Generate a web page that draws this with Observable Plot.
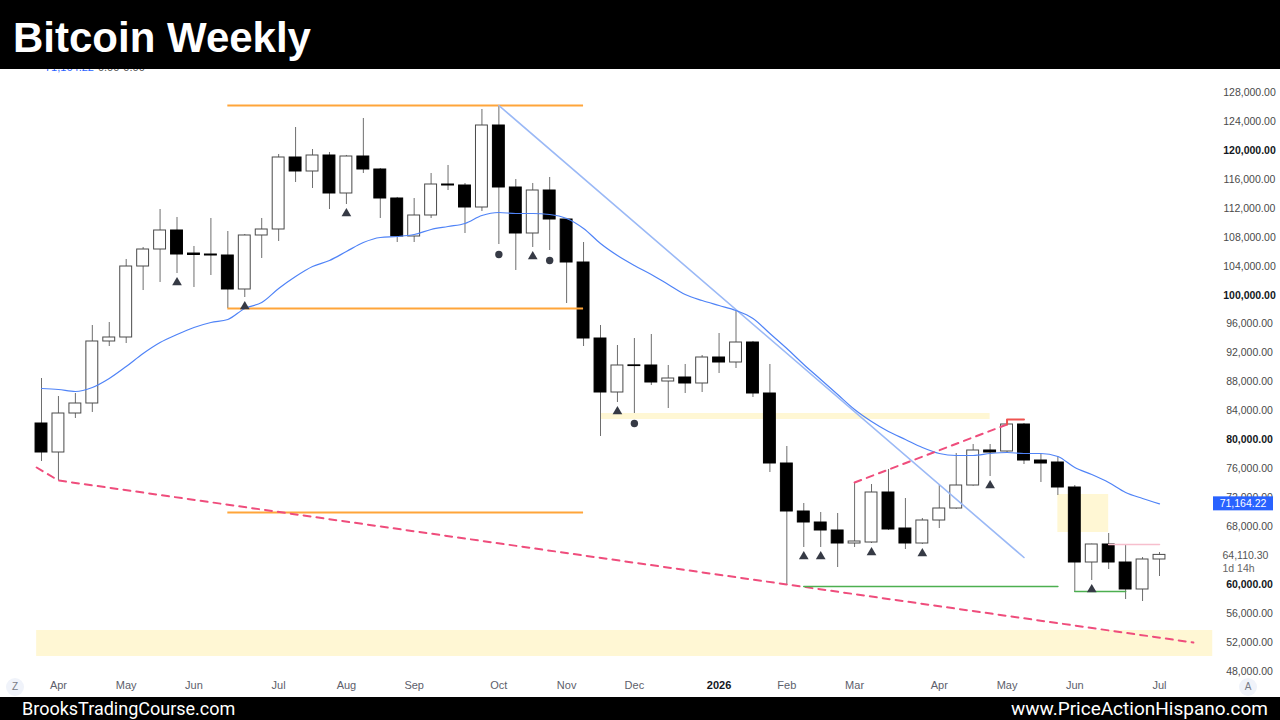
<!DOCTYPE html>
<html>
<head>
<meta charset="utf-8">
<script src="https://cdn.jsdelivr.net/npm/d3@7"></script>
<script src="https://cdn.jsdelivr.net/npm/@observablehq/plot@0.6"></script>
<style>
html, body { margin:0; padding:0; background:#fff; width:1280px; height:720px; overflow:hidden; position:relative; font-family:"Liberation Sans", Arial, sans-serif; }
#header { position:absolute; left:0; top:0; width:1280px; height:69px; background:#000; z-index:3; }
#title { position:absolute; left:13px; top:17px; font:bold 42px "Liberation Sans", Arial, sans-serif; color:#fff; line-height:1; white-space:nowrap; }
#legend { position:absolute; left:45px; top:61px; font:11px "Liberation Sans", Arial, sans-serif; z-index:1; white-space:nowrap; }
#legend .v { color:#2962ff; }
#legend .g { color:#555; margin-left:4px; }
#chart { position:absolute; left:0; top:69px; z-index:0; }
#footer { position:absolute; left:0; top:697px; width:1280px; height:23px; background:#000; z-index:3; font:18px Roboto, "Liberation Sans", sans-serif; line-height:23px; color:#fff; }
#footer .l { position:absolute; left:22px; top:0; }
#footer .r { position:absolute; right:12px; top:0; font-size:19px; }
.btn { position:absolute; width:18px; height:18px; border-radius:9px; background:#f0f3fa; color:#787b86; font:10px "Liberation Sans", Arial, sans-serif; text-align:center; line-height:18px; z-index:2; }
</style>
</head>
<body>
<div id="legend"><span class="v">71,164.22</span><span class="g">0.00</span><span class="g">0.00</span></div>
<div id="header"><div id="title">Bitcoin Weekly</div></div>
<div id="chart"></div>
<div class="btn" style="left:6px;top:678px;">Z</div>
<div class="btn" style="left:1239px;top:678px;">A</div>
<div id="footer"><span class="l">BrooksTradingCourse.com</span><span class="r">www.PriceActionHispano.com</span></div>
<script>
// ---- weekly bars (Mondays) ----
const firstWeek = "2025-03-31";
const lastWeek = "2026-07-06";
const open = [82266,78259,83647,85029,93596,94148,103958,106307,108933,105750,
  105616,105478,100781,108242,109071,119019,117085,119295,114045,119157,
  117361,113354,108104,111005,115288,115150,112110,123440,114874,108518,
  114459,110452,104511,94010,86549,90300,90280,88069,88622,87793,
  91385,90694,93457,86411,76739,70107,68587,67482,65685,65823,
  72732,67758,65685,68863,70521,73699,78535,78397,82128,77153,
  76877,73423,63060,65547,63060,59330,63475];
const high = [88483,85996,86411,95806,96221,104926,106584,111834,110729,106722,
  110591,108794,108380,110591,119433,123164,120124,119710,119300,124408,
  117500,113500,113354,116808,117914,115427,125651,126204,115979,115427,
  116256,110600,107274,95806,93043,94010,94563,90280,90418,91661,
  94701,97879,93600,90418,79088,71212,69969,69830,74114,73837,
  75910,71903,69140,73699,78121,79364,79364,82818,82266,77982,
  77706,73699,65600,67067,65409,63751,64442];
const low = [77015,74390,82957,83786,92905,93319,100642,101748,102991,101057,
  102715,98155,99675,105064,107413,115565,114736,111834,112525,116808,
  110591,107274,107274,110591,114459,108518,111558,106998,103406,106584,
  106169,98846,92905,80470,85167,83647,87516,84338,86411,86549,
  89174,89865,85858,75495,59882,65133,65133,62369,65133,65685,
  67482,64856,65550,67758,70400,73600,74943,78121,76601,74114,
  72317,58915,60573,62093,57948,57671,61126];
const close = [78259,83647,85029,93596,94148,103958,106307,108933,105616,105550,
  105478,100781,108242,109071,119019,117085,119295,114045,119157,117361,
  113354,108104,111005,115288,115150,112110,123440,114874,108518,114459,
  110452,104511,94010,86549,90280,90200,87931,88483,87793,91385,
  90694,93457,86411,76739,70107,68587,67482,65685,65962,72732,
  67620,65685,68863,70521,73699,78535,78259,82128,77153,76739,
  73423,63060,65547,63060,59330,63475,64110.30];
// 20-week EMA (blue)
const ema = [87102,86964,86687,87240,88483,90141,91938,93457,94563,95530,
  96221,96635,98155,98984,100919,102577,103958,104787,106031,107274,
  107965,108104,108380,109071,109485,109900,111005,111420,111281,111281,
  111143,110591,109209,107136,105478,104097,102853,101471,100090,99261,
  98570,97879,96774,94701,92628,90418,88345,86273,84200,82542,
  81160,80055,78950,78121,77844,77844,78121,78259,78121,78121,
  77706,76186,75219,74114,72732,71903,71164.22];
// signal markers below bars (bar indexes)
const triangleBars = [8,12,18,29,34,45,46,49,52,56,62];
const circleBars = [27,30,35];

// ---- drawings ----
const orangeLevels = [126204, 98155, 69969];
const orangeFrom = "2025-06-16", orangeTo = "2025-11-10";
const zones = [
  {x1:"2025-11-17", x2:"2026-04-27", y1:82818, y2:83647},
  {x1:"2026-05-25", x2:"2026-06-15", y1:67205, y2:72456},
  {x1:"2025-03-29", x2:"2026-07-28", y1:50073, y2:53665}
];
const trendLine = [{d:"2025-10-06", p:126204}, {d:"2026-05-11", p:63751}];
const redDashLow = [{d:"2025-03-29", p:76188}, {d:"2025-04-07", p:74390}, {d:"2026-07-20", p:52007}];
const redDashHigh = [{d:"2026-03-02", p:74114}, {d:"2026-05-04", p:82128}];
const redSolid = [{d:"2026-05-04", p:82128}, {d:"2026-05-04", p:82818}, {d:"2026-05-11", p:82818}];
const pinkLine = [{d:"2026-06-15", p:65547}, {d:"2026-07-06", p:65547}];
const greenLines = [
  [{d:"2026-02-09", p:59746}, {d:"2026-05-25", p:59746}],
  [{d:"2026-06-01", p:59055}, {d:"2026-06-22", p:59055}]
];

// ---- axes ----
const yTicks = [48000,52000,56000,60000,68000,72000,76000,80000,84000,88000,92000,96000,100000,104000,108000,112000,116000,120000,124000,128000];
const yBold = [60000,80000,100000,120000];
const xTickDates = ["2025-04-07","2025-05-05","2025-06-02","2025-07-07","2025-08-04","2025-09-01","2025-10-06","2025-11-03","2025-12-01","2026-01-05","2026-02-02","2026-03-02","2026-04-06","2026-05-04","2026-06-01","2026-07-06"];
const xTickLabels = ["Apr","May","Jun","Jul","Aug","Sep","Oct","Nov","Dec","2026","Feb","Mar","Apr","May","Jun","Jul"];
const lastClose = 64110.30;
const countdown = "1d 14h";

// ---- build ----
const D = s => new Date(s);
const weeks = d3.utcMonday.range(D(firstWeek), d3.utcDay.offset(D(lastWeek), 1));
const bars = weeks.map((date, i) => ({date, o:open[i], h:high[i], l:low[i], c:close[i], e:ema[i]}));
const pts = arr => arr.map(a => ({d:D(a.d), p:a.p}));
const fmt = d3.format(",.2f");
const labelMap = new Map(xTickDates.map((s, i) => [+D(s), xTickLabels[i]]));
const xNormal = xTickDates.filter((s, i) => xTickLabels[i] !== "2026").map(D);
const xBold = xTickDates.filter((s, i) => xTickLabels[i] === "2026").map(D);
const emaLast = ema[ema.length - 1];

function emaTag(index, scales, values, dims) {
  const y = scales.y(emaLast);
  const xr = dims.width - dims.marginRight;
  const g = d3.create("svg:g");
  g.append("rect").attr("x", xr + 1).attr("y", y - 7).attr("width", 60).attr("height", 14).attr("fill", "#2962ff");
  g.append("text").attr("x", xr + 31).attr("y", y).attr("dy", "0.35em").attr("text-anchor", "middle")
    .attr("fill", "#fff").attr("font-size", 10.5).attr("font-family", "Liberation Sans, Arial, sans-serif").text(fmt(emaLast));
  return g.node();
}

const chart = Plot.plot({
  width: 1280,
  height: 628,
  marginLeft: 0,
  marginRight: 68,
  marginTop: 0,
  marginBottom: 19,
  style: {fontFamily: "Liberation Sans, Arial, sans-serif", background: "transparent", overflow: "visible"},
  x: {type: "utc", domain: [D(firstWeek), D(lastWeek)], range: [41, 1159]},
  y: {type: "linear", domain: [48000, 128000], range: [602, 23]},
  color: {type: "identity"},
  marks: [
    Plot.rect(zones, {x1: d => D(d.x1), x2: d => D(d.x2), y1: "y1", y2: "y2", fill: "#fff7d4"}),
    // candles
    Plot.ruleX(bars, {x: "date", y1: "l", y2: "h", stroke: "#6e6e6e", strokeWidth: 1}),
    Plot.rect(bars, {
      x1: d => d3.utcHour.offset(d.date, -59),
      x2: d => d3.utcHour.offset(d.date, 59),
      y1: "o", y2: "c",
      fill: d => d.c >= d.o ? "#ffffff" : "#000000",
      stroke: d => d.c >= d.o ? "#4a4a4a" : "#000000",
      strokeWidth: 1
    }),
    // drawings
    Plot.ruleY(orangeLevels, {x1: D(orangeFrom), x2: D(orangeTo), y: d => d, stroke: "#ffa53a", strokeWidth: 2}),
    Plot.line(pts(trendLine), {x: "d", y: "p", stroke: "#9bb9f6", strokeWidth: 1.6}),
    Plot.line(bars, {x: "date", y: "e", stroke: "#4f83f7", strokeWidth: 1.2, curve: "monotone-x"}),
    Plot.line(pts(redDashLow), {x: "d", y: "p", stroke: "#ef4d7c", strokeWidth: 2, strokeDasharray: "7,6"}),
    Plot.line(pts(redDashHigh), {x: "d", y: "p", stroke: "#ef4d7c", strokeWidth: 2, strokeDasharray: "7,6"}),
    Plot.line(pts(redSolid), {x: "d", y: "p", stroke: "#ef5350", strokeWidth: 2}),
    Plot.line(pts(pinkLine), {x: "d", y: "p", stroke: "#f7bfcd", strokeWidth: 1.5}),
    ...greenLines.map(g => Plot.line(pts(g), {x: "d", y: "p", stroke: "#4caf50", strokeWidth: 1.6})),
    // signal markers
    Plot.dot(triangleBars.map(i => bars[i]), {x: "date", y: "l", dy: 9, symbol: "triangle", r: 3.6, fill: "#363a45", stroke: "none"}),
    Plot.dot(circleBars.map(i => bars[i]), {x: "date", y: "l", dy: 10, r: 3.7, fill: "#363a45", stroke: "none"}),
    // axes
    Plot.axisY(yTicks.filter(t => !yBold.includes(t)), {anchor: "right", tickSize: 0, tickPadding: 0, dx: 37, textAnchor: "middle", tickFormat: fmt, fontSize: 10.5, color: "#4a4a4a"}),
    Plot.axisY(yBold, {anchor: "right", tickSize: 0, tickPadding: 0, dx: 37, textAnchor: "middle", tickFormat: fmt, fontSize: 10.5, fontWeight: "bold", color: "#131722"}),
    Plot.axisX(xNormal, {anchor: "bottom", tickSize: 0, tickPadding: 3, tickFormat: d => labelMap.get(+d), fontSize: 11, color: "#5d606b"}),
    Plot.axisX(xBold, {anchor: "bottom", tickSize: 0, tickPadding: 3, tickFormat: d => labelMap.get(+d), fontSize: 11, fontWeight: "bold", color: "#131722"}),
    Plot.text([lastClose], {y: d => d, text: d => fmt(d), frameAnchor: "right", dx: 10, dy: 1, textAnchor: "start", fontSize: 10.5, fill: "#555"}),
    Plot.text([lastClose], {y: d => d, text: () => countdown, frameAnchor: "right", dx: 10, dy: 14, textAnchor: "start", fontSize: 10.5, fill: "#666"}),
    emaTag
  ]
});
document.getElementById("chart").appendChild(chart);
</script>
</body>
</html>
